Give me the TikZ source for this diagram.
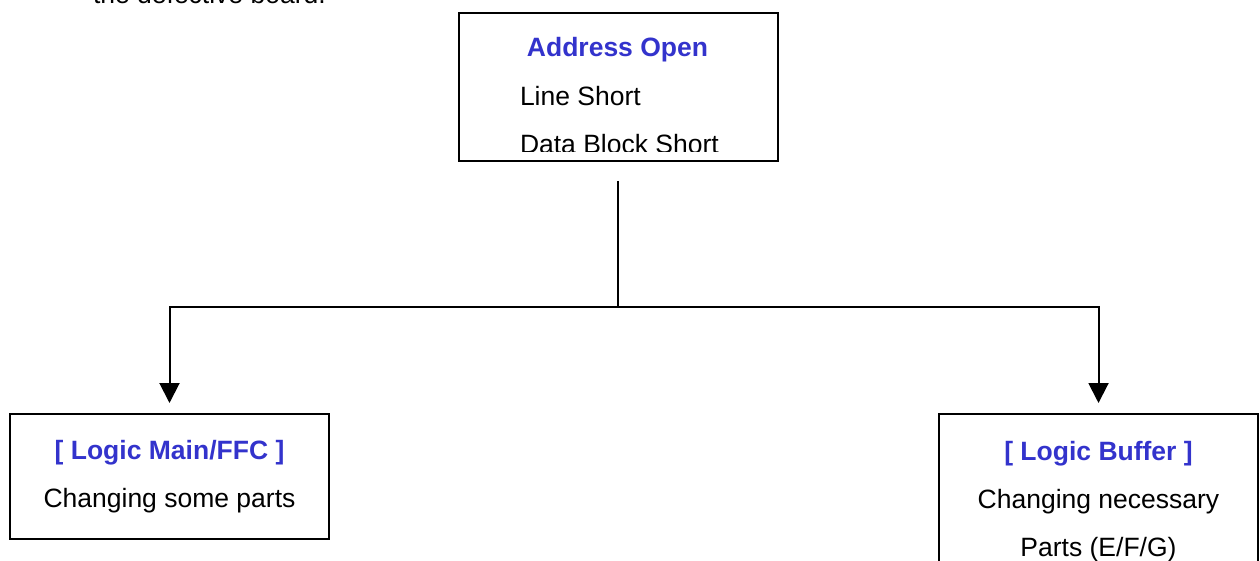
\documentclass[tikz,border=0pt]{standalone}
\usepackage{fontspec}
\setmainfont{Liberation Sans}
\usepackage{tikz}
\usetikzlibrary{arrows.meta}
\usepackage{xcolor}
\definecolor{titleblue}{RGB}{51,51,204}

\begin{document}
\begin{tikzpicture}[x=1pt, y=-1pt, line width=2pt, >={Triangle[width=20pt,length=20pt]},
    box/.style={draw, rectangle, minimum width=319pt, align=center, inner sep=0pt,
                font=\fontsize{26.5}{48}\selectfont},
    txt/.style={inner sep=0pt, font=\fontsize{26.5}{48}\selectfont},
    title/.style={txt, text=titleblue, font=\fontsize{26.5}{48}\selectfont\bfseries}]
      \clip[use as bounding box] (0,0) rectangle (1260,561);

      \node[txt, anchor=base west] (prev) at (92,4) {the defective board.};

      % top box, its last line runs past the frame
      \node[box, minimum height=148pt] (addr) at (618,87) {};
      \begin{scope}
        \clip (addr.north west) rectangle ([yshift=10pt]addr.south east);
        \node[title, anchor=base] (fault) at (617.5,57) {Address Open};
        \node[txt, anchor=base west] (lineshort) at (519,106) {Line Short};
        \node[txt, anchor=base west] (blockshort) at (519,154) {Data Block Short};
      \end{scope}

      \node[box, minimum height=125pt] (mainboard) at (169.5,476.5)
            {\textcolor{titleblue}{\bfseries [ Logic Main/FFC ]}\\ Changing some parts};
      \node[box, minimum height=175pt] (buffer) at (1098.5,501.5)
            {\textcolor{titleblue}{\bfseries [ Logic Buffer ]}\\ Changing necessary\\ Parts (E/F/G)};

      \coordinate (split) at (618,307);
      \draw ([yshift=-19pt]addr.south) -- (split);
      \draw[->, shorten >=10pt] (split) -| (mainboard.north);
      \draw[->, shorten >=10pt] (split) -| (buffer.north);
\end{tikzpicture}
\end{document}
